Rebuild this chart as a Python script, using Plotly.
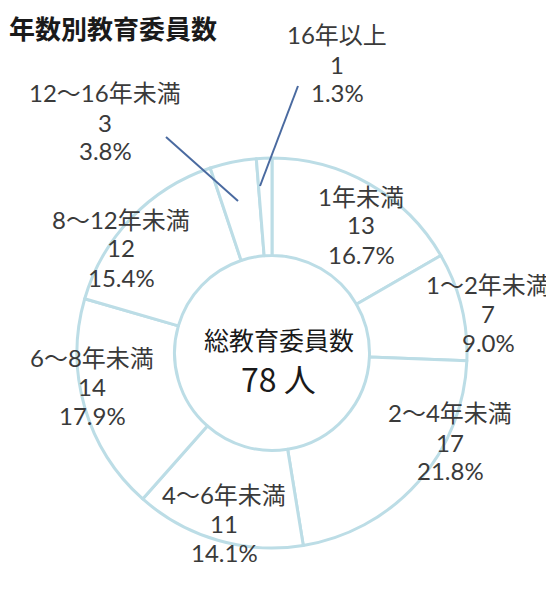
import plotly.graph_objects as go

# Data
categories = ["1年未満", "1～2年未満", "2～4年未満", "4～6年未満",
              "6～8年未満", "8～12年未満", "12～16年未満", "16年以上"]
counts = [13, 7, 17, 11, 14, 12, 3, 1]
total = sum(counts)
title_text = "年数別教育委員数"
center_line1 = "総教育委員数"
center_line2 = f"{total} 人"

W, H = 554, 594
cx, cy, R = 264, 345, 195

fig = go.Figure()
fig.add_trace(go.Pie(
    labels=categories,
    values=counts,
    sort=False,
    direction="clockwise",
    rotation=0,
    hole=0.5,
    textinfo="none",
    marker=dict(colors=["#ffffff"] * len(counts),
                line=dict(color="#bcdde6", width=3)),
    domain=dict(x=[(cx - R) / W, (cx + R) / W],
                y=[(H - cy - R) / H, (H - cy + R) / H]),
    showlegend=False,
))

# label positions (pixel centre of middle line, top-left origin)
label_pos = {
    "1年未満": (353, 217),
    "1～2年未満": (480, 305),
    "2～4年未満": (442, 434),
    "4～6年未満": (216, 515),
    "6～8年未満": (84, 378),
    "8～12年未満": (113, 240),
    "12～16年未満": (97, 114),
    "16年以上": (329, 56),
}
LINE_GAP = 29

def px(x, y):
    return x / W, 1 - y / H

FONT = "Lato, Noto Sans CJK JP, sans-serif"
font_lbl = dict(family=FONT, size=24, color="#3a3a3a")
for cat, v in zip(categories, counts):
    pct = v / total * 100
    x, y = label_pos[cat]
    for i, line in enumerate([cat, str(v), f"{pct:.1f}%"]):
        ax, ay = px(x, y + (i - 1) * LINE_GAP)
        fig.add_annotation(x=ax, y=ay, xref="paper", yref="paper",
                           text=line, showarrow=False, font=font_lbl,
                           xanchor="center", yanchor="middle",
                           borderpad=0)

# leader lines for small slices
leaders = [((290, 78), (252, 178)), ((158, 129), (230, 193))]
for (x0, y0), (x1, y1) in leaders:
    X0, Y0 = px(x0, y0)
    X1, Y1 = px(x1, y1)
    fig.add_shape(type="line", xref="paper", yref="paper",
                  x0=X0, y0=Y0, x1=X1, y1=Y1,
                  line=dict(color="#4a6aa0", width=2))

# centre text
fig.add_annotation(x=271 / W, y=1 - 331 / H, xref="paper", yref="paper",
                   text=center_line1, showarrow=False, borderpad=0,
                   font=dict(family="Noto Sans CJK JP, sans-serif", size=25, color="#1a1a1a"))
fig.add_annotation(x=270 / W, y=1 - 370 / H, xref="paper", yref="paper",
                   text=center_line2, showarrow=False, borderpad=0,
                   font=dict(family="Noto Sans CJK JP, sans-serif", size=32, color="#1a1a1a"))

# title
fig.add_annotation(x=0, y=1 - 19 / H, xref="paper", yref="paper",
                   text=f"<b>{title_text}</b>", showarrow=False,
                   xanchor="left", yanchor="middle", borderpad=0,
                   font=dict(family="Noto Sans CJK JP, sans-serif", size=26, color="#1a1a1a"))

fig.update_layout(width=W, height=H,
                  margin=dict(l=0, r=0, t=0, b=0),
                  paper_bgcolor="white", plot_bgcolor="white")
fig.write_html("out.html")
